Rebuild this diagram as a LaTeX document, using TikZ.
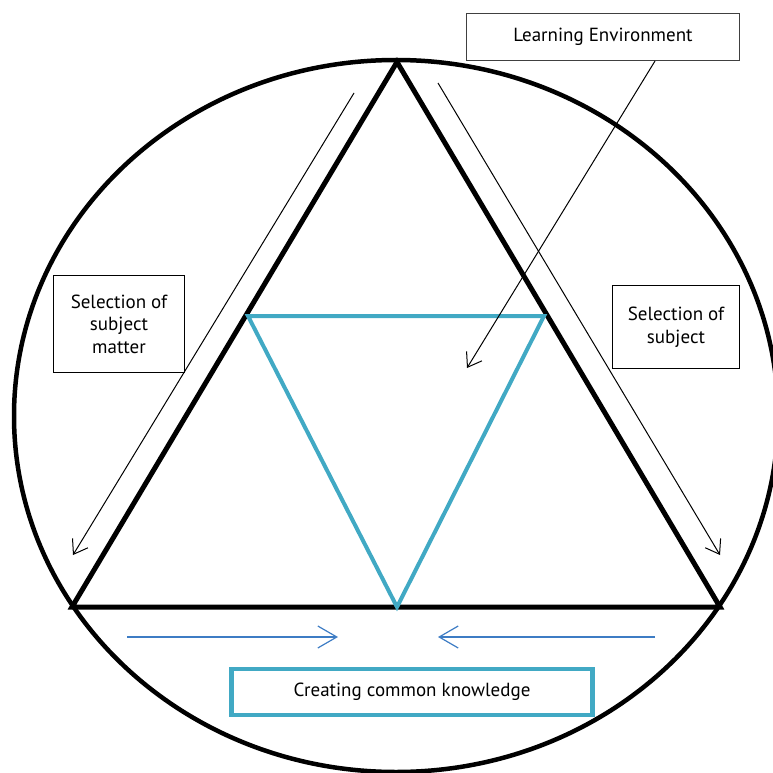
\documentclass[tikz,border=0pt]{standalone}
\usepackage{fontspec}
\setmainfont{PT Sans}
\usetikzlibrary{arrows.meta}
\definecolor{ckblue}{HTML}{41A9C4}
\definecolor{arrblue}{HTML}{3D7CC4}
\tikzset{
  textbox/.style={draw, fill=white, align=center, line width=0.9pt,
    font=\fontsize{19}{22.5}\selectfont},
  barb/.style={-{Straight Barb[length=13pt,width=18pt]}, line width=1pt},
  bluebarb/.style={-{Straight Barb[length=19pt,width=22pt]}, line width=1.2pt, arrblue}
}
\begin{document}
\begin{tikzpicture}[x=1pt,y=-1pt]
  \useasboundingbox (0,0) rectangle (772,773);
  % outer circle
  \draw[line width=4.5pt] (396,416) ellipse [x radius=382pt, y radius=356pt];
  % corners of the two triangles
  \coordinate (top) at (397,62);
  \coordinate (left) at (72,607);
  \coordinate (right) at (720,607);
  \coordinate (inl) at (248,316);
  \coordinate (inr) at (544,316);
  \coordinate (inb) at (397,607);
  \draw[line width=5pt] (top) -- (left) -- (right) -- cycle;
  \draw[ckblue, line width=4pt] (inl) -- (inr) -- (inb) -- cycle;
  % text boxes
  \node[textbox, draw=black!75, line width=1.3pt, minimum width=273pt, minimum height=47pt]
    (env) at (603,37) {Learning Environment};
  \node[textbox, minimum width=131pt, minimum height=97pt]
    (selL) at (119,324) {Selection of\\subject\\matter};
  \node[textbox, minimum width=127pt, minimum height=83pt]
    (selR) at (676,327) {Selection of\\subject};
  \node[textbox, draw=ckblue, line width=4.5pt, minimum width=361pt, minimum height=46pt]
    (common) at (412,692) {Creating common knowledge};
  % arrows
  \coordinate (envfoot) at (655,61);
  \coordinate (envtip) at (467,368);
  \coordinate (l1) at (354,93);
  \coordinate (l2) at (73,555);
  \coordinate (r1) at (438,83);
  \coordinate (r2) at (720,555);
  \coordinate (b1) at (127,637);
  \coordinate (b2) at (338,637);
  \coordinate (b3) at (655,637);
  \coordinate (b4) at (438,637);
  \begin{scope}[barb]
    \draw (envfoot) to (envtip);
    \draw (l1) to (l2);
    \draw (r1) to (r2);
  \end{scope}
  \begin{scope}[bluebarb]
    \draw (b1) to (b2);
    \draw (b3) to (b4);
  \end{scope}
\end{tikzpicture}
\end{document}
